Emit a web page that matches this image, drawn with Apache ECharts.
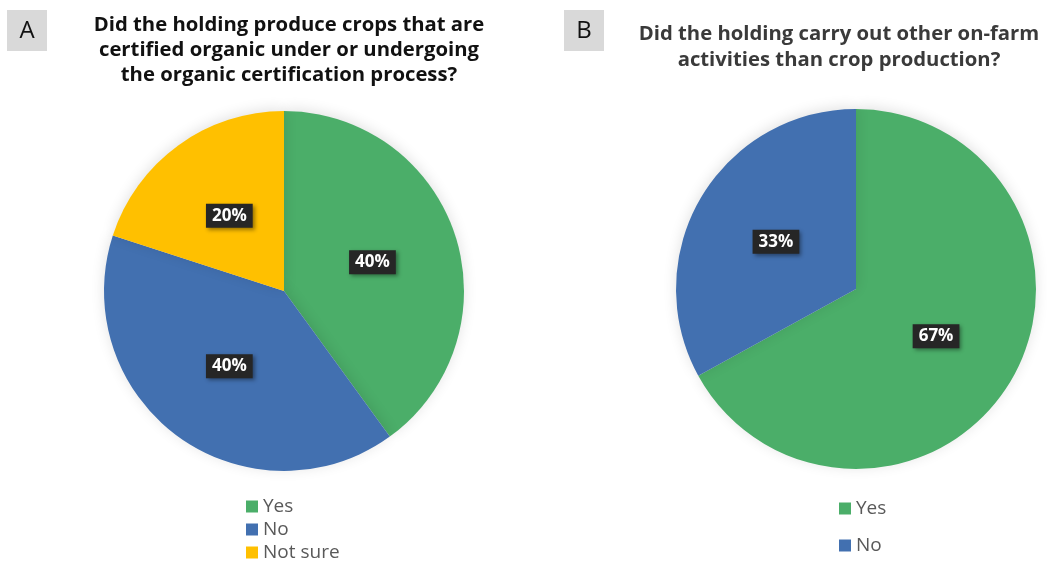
<!DOCTYPE html>
<html><head><meta charset="utf-8">
<script src="https://cdn.jsdelivr.net/npm/echarts@6/dist/echarts.min.js"></script>
<style>html,body{margin:0;padding:0;background:#fff}#c{width:1047px;height:561px}</style>
</head><body><div id="c"></div>
<script>
const categoriesA = ['Yes', 'No', 'Not sure'];
const valuesA = [40, 40, 20];
const categoriesB = ['Yes', 'No'];
const valuesB = [67, 33];
const titleA = 'Did the holding produce crops that are\ncertified organic under or undergoing\nthe organic certification process?';
const titleB = 'Did the holding carry out other on-farm\nactivities than crop production?';
const colorsA = ['#4BAE69', '#4270B0', '#FFC000'];
const colorsB = ['#4BAE69', '#4270B0'];

const chart = echarts.init(document.getElementById('c'));
const font = '"Open Sans", Lato, sans-serif';
const labelStyle = {
  show: true, position: 'inner', formatter: '{c}%',
  color: '#fff', fontWeight: 'bold', fontSize: 17, fontFamily: font,
  backgroundColor: '#262626', padding: [4, 6, 3, 6],
  shadowColor: 'rgba(0,0,0,0.4)', shadowBlur: 4, shadowOffsetX: 2, shadowOffsetY: 2
};
chart.setOption({
  animation: false,
  title: [
    { text: titleA, left: 284, top: 8, textAlign: 'center',
      textStyle: { fontFamily: font, fontWeight: 'bold', fontSize: 20.3, lineHeight: 25, color: '#111' } },
    { text: titleB, left: 834, top: 16, textAlign: 'center',
      textStyle: { fontFamily: font, fontWeight: 'bold', fontSize: 20.3, lineHeight: 26, color: '#3a3a3a' } }
  ],
  graphic: [
    { type: 'rect', shape: { x: 7, y: 10, width: 40, height: 41 }, style: { fill: '#d9d9d9' } },
    { type: 'text', x: 27, y: 31, style: { text: 'A', fontSize: 24, fontFamily: font, fill: '#111', align: 'center', verticalAlign: 'middle' } },
    { type: 'rect', shape: { x: 564, y: 10, width: 40, height: 41 }, style: { fill: '#d9d9d9' } },
    { type: 'text', x: 584, y: 31, style: { text: 'B', fontSize: 24, fontFamily: font, fill: '#111', align: 'center', verticalAlign: 'middle' } }
  ],
  legend: [
    { data: categoriesA, orient: 'vertical', left: 246, top: 496, height: 80, itemWidth: 12, itemHeight: 12, itemGap: 2,
      icon: 'rect', padding: 0, textStyle: { fontFamily: font, fontSize: 19, lineHeight: 21, color: '#595959' } },
    { data: categoriesB, orient: 'vertical', left: 839, top: 498, height: 80, itemWidth: 12, itemHeight: 12, itemGap: 16,
      icon: 'rect', padding: 0, textStyle: { fontFamily: font, fontSize: 19, lineHeight: 21, color: '#595959' } }
  ],
  series: [
    { type: 'pie', center: [284, 291], radius: 180, startAngle: 90, clockwise: true,
      data: categoriesA.map((n, i) => ({ name: n, value: valuesA[i], itemStyle: { color: colorsA[i] } })),
      label: labelStyle, labelLine: { show: false },
      itemStyle: { shadowColor: 'rgba(0,0,0,0.12)', shadowBlur: 14, shadowOffsetY: -2 },
      emphasis: { disabled: true } },
    { type: 'pie', center: [856, 289], radius: 180, startAngle: 90, clockwise: true,
      data: categoriesB.map((n, i) => ({ name: n, value: valuesB[i], itemStyle: { color: colorsB[i] } })),
      label: labelStyle, labelLine: { show: false },
      itemStyle: { shadowColor: 'rgba(0,0,0,0.12)', shadowBlur: 14, shadowOffsetY: -2 },
      emphasis: { disabled: true } }
  ]
});
</script></body></html>
